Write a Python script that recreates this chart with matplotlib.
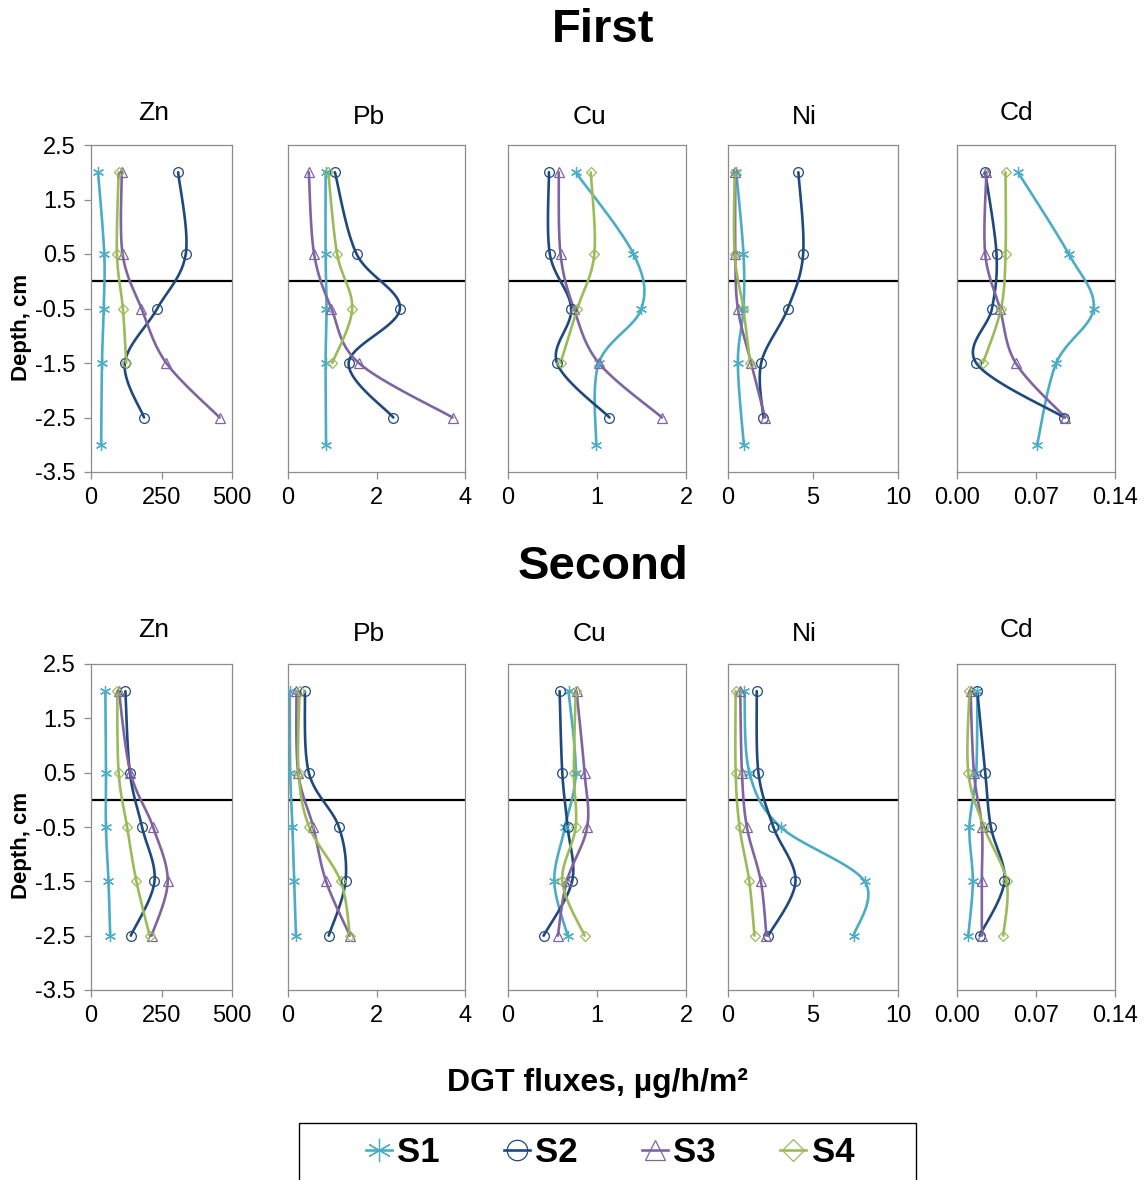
import matplotlib
matplotlib.use("Agg")
import matplotlib.pyplot as plt
from matplotlib.lines import Line2D
from matplotlib.patches import Rectangle
import numpy as np

plt.rcParams["font.family"] = ["Liberation Sans", "DejaVu Sans"]

# depths (cm) of the sampling points
DEPTH = [2, 0.5, -0.5, -1.5, -2.5]
DEPTH_S1_FIRST = [2, 0.5, -0.5, -1.5, -3]
DEPTH_S4_FIRST = [2, 0.5, -0.5, -1.5]

STATIONS = ["S1", "S2", "S3", "S4"]
METALS = ["Zn", "Pb", "Cu", "Ni", "Cd"]

# First campaign, DGT fluxes
FIRST_ZN = {"S1": [25, 47, 45, 39, 36], "S2": [309, 336, 235, 120, 188],
            "S3": [109, 112, 179, 267, 456], "S4": [98, 92, 113, 125]}
FIRST_PB = {"S1": [0.85, 0.85, 0.87, 0.85, 0.86], "S2": [1.06, 1.55, 2.53, 1.37, 2.38],
            "S3": [0.47, 0.59, 0.98, 1.60, 3.72], "S4": [0.91, 1.11, 1.45, 1.00]}
FIRST_CU = {"S1": [0.76, 1.41, 1.50, 1.02, 0.99], "S2": [0.46, 0.47, 0.71, 0.55, 1.14],
            "S3": [0.57, 0.59, 0.74, 1.02, 1.73], "S4": [0.93, 0.97, 0.78, 0.59]}
FIRST_NI = {"S1": [0.49, 0.91, 0.91, 0.58, 0.93], "S2": [4.14, 4.42, 3.52, 1.95, 2.08],
            "S3": [0.43, 0.43, 0.58, 1.36, 2.18], "S4": [0.39, 0.39, 0.90, 1.30]}
FIRST_CD = {"S1": [0.054, 0.099, 0.121, 0.088, 0.071], "S2": [0.025, 0.035, 0.031, 0.017, 0.095],
            "S3": [0.026, 0.025, 0.038, 0.052, 0.096], "S4": [0.043, 0.043, 0.039, 0.023]}

# Second campaign, DGT fluxes
SECOND_ZN = {"S1": [51, 53, 53, 62, 68], "S2": [122, 138, 181, 225, 141],
             "S3": [99, 140, 220, 272, 215], "S4": [93, 98, 128, 161, 208]}
SECOND_PB = {"S1": [0.04, 0.05, 0.10, 0.14, 0.18], "S2": [0.38, 0.47, 1.15, 1.30, 0.92],
             "S3": [0.19, 0.23, 0.57, 0.86, 1.40], "S4": [0.26, 0.24, 0.48, 1.19, 1.40]}
SECOND_CU = {"S1": [0.68, 0.76, 0.64, 0.52, 0.67], "S2": [0.58, 0.61, 0.67, 0.72, 0.40],
             "S3": [0.77, 0.86, 0.89, 0.66, 0.56], "S4": [0.76, 0.74, 0.76, 0.61, 0.86]}
SECOND_NI = {"S1": [0.97, 1.26, 3.09, 8.04, 7.39], "S2": [1.69, 1.79, 2.67, 3.97, 2.37],
             "S3": [0.72, 0.82, 1.11, 1.93, 2.26], "S4": [0.45, 0.45, 0.68, 1.25, 1.56]}
SECOND_CD = {"S1": [0.018, 0.017, 0.011, 0.014, 0.010], "S2": [0.018, 0.025, 0.030, 0.042, 0.020],
             "S3": [0.012, 0.015, 0.022, 0.022, 0.022], "S4": [0.011, 0.010, 0.024, 0.044, 0.041]}

X_LIMITS = {"Zn": (0, 500), "Pb": (0, 4), "Cu": (0, 2), "Ni": (0, 10), "Cd": (0, 0.14)}
X_TICKS = {"Zn": [0, 250, 500], "Pb": [0, 2, 4], "Cu": [0, 1, 2], "Ni": [0, 5, 10],
           "Cd": [0, 0.07, 0.14]}
X_TICKLABELS = {"Zn": ["0", "250", "500"], "Pb": ["0", "2", "4"], "Cu": ["0", "1", "2"],
                "Ni": ["0", "5", "10"], "Cd": ["0.00", "0.07", "0.14"]}
Y_TICKS = [2.5, 1.5, 0.5, -0.5, -1.5, -2.5, -3.5]

COLORS = {"S1": "#4BACC6", "S2": "#1F497D", "S3": "#8064A2", "S4": "#9BBB59"}
MARKERS = {"S1": (6, 2, 0), "S2": "o", "S3": "^", "S4": "D"}
MSIZE = {"S1": 8, "S2": 7, "S3": 7, "S4": 5.5}

W, H = 1146, 1180
# panel boxes in pixels: left, right
PANEL_X = {"Zn": (91, 232), "Pb": (288, 465), "Cu": (508, 686), "Ni": (728, 898), "Cd": (957, 1115)}
TITLE_X = {"Zn": 154, "Pb": 369, "Cu": 589, "Ni": 804, "Cd": 1016}
TITLE_DY = {"Zn": 0, "Pb": 4, "Cu": 4, "Ni": 4, "Cd": 0}


def smooth(xs, ys, n=24):
    # Excel-style smoothed line (cubic Bezier, Catmull-Rom control points)
    p = np.column_stack([xs, ys]).astype(float)
    out = [p[0]]
    t = np.linspace(0, 1, n)[1:, None]
    for i in range(len(p) - 1):
        p0 = p[i - 1] if i > 0 else p[i]
        p1, p2 = p[i], p[i + 1]
        p3 = p[i + 2] if i + 2 < len(p) else p[i + 1]
        c1 = p1 + (p2 - p0) / 6
        c2 = p2 - (p3 - p1) / 6
        seg = ((1 - t) ** 3) * p1 + 3 * ((1 - t) ** 2) * t * c1 + 3 * (1 - t) * t ** 2 * c2 + t ** 3 * p2
        out.extend(seg)
    out = np.array(out)
    return out[:, 0], out[:, 1]


def draw_panel(ax, metal, data, depths, show_y):
    ax.axhline(0, color="black", linewidth=1.6, zorder=1)
    for s in STATIONS:
        xs = data[s]
        ys = depths[s]
        sx, sy = smooth(xs, ys)
        ax.plot(sx, sy, color=COLORS[s], linewidth=1.9, zorder=2, solid_capstyle="round")
        ax.plot(xs, ys, linestyle="none", marker=MARKERS[s], markersize=MSIZE[s],
                markerfacecolor="none", markeredgecolor=COLORS[s], markeredgewidth=0.9, zorder=3)
    ax.set_xlim(*X_LIMITS[metal])
    ax.set_ylim(-3.5, 2.5)
    ax.set_xticks(X_TICKS[metal])
    ax.set_xticklabels(X_TICKLABELS[metal])
    for spine in ax.spines.values():
        spine.set_color("#8C8C8C")
        spine.set_linewidth(0.9)
    ax.tick_params(axis="x", direction="out", length=5, width=0.9, color="#8C8C8C",
                   labelsize=17, pad=6)
    if show_y:
        ax.set_yticks(Y_TICKS)
        ax.set_yticklabels([f"{v:.1f}" for v in Y_TICKS])
        ax.tick_params(axis="y", direction="out", length=5, width=0.9, color="#8C8C8C",
                       labelsize=17, pad=6)
    else:
        ax.set_yticks([])


fig = plt.figure(figsize=(W / 100, H / 100), dpi=100, facecolor="white")

rows = [
    ("First", 30, 145, 472, 113, 327,
     {"Zn": FIRST_ZN, "Pb": FIRST_PB, "Cu": FIRST_CU, "Ni": FIRST_NI, "Cd": FIRST_CD},
     {"S1": DEPTH_S1_FIRST, "S2": DEPTH, "S3": DEPTH, "S4": DEPTH_S4_FIRST}),
    ("Second", 567, 664, 990, 630, 845,
     {"Zn": SECOND_ZN, "Pb": SECOND_PB, "Cu": SECOND_CU, "Ni": SECOND_NI, "Cd": SECOND_CD},
     {"S1": DEPTH, "S2": DEPTH, "S3": DEPTH, "S4": DEPTH}),
]

for title, ty, top, bottom, panel_ty, label_y, data, depths in rows:
    fig.text(0.5 + 30 / W, 1 - ty / H, title, ha="center", va="center",
             fontsize=34, fontweight="bold")
    for metal in METALS:
        x0, x1 = PANEL_X[metal]
        ax = fig.add_axes([x0 / W, 1 - bottom / H, (x1 - x0) / W, (bottom - top) / H])
        draw_panel(ax, metal, data[metal], depths, metal == "Zn")
        fig.text(TITLE_X[metal] / W, 1 - (panel_ty + TITLE_DY[metal]) / H, metal,
                 ha="center", va="center", fontsize=19)
    fig.text(22 / W, 1 - label_y / H, "Depth, cm", rotation=90, ha="center", va="center",
             fontsize=16, fontweight="bold")

fig.text(597 / W, 1 - 1083 / H, "DGT fluxes, µg/h/m²", ha="center", va="center",
         fontsize=23, fontweight="bold")

fig.patches.append(Rectangle((299 / W, 1 - 1200 / H), (916 - 299) / W, (1200 - 1123) / H,
                             transform=fig.transFigure, facecolor="white", edgecolor="black",
                             linewidth=1.0, figure=fig))

handles = [Line2D([], [], color=COLORS[s], linewidth=1.9, marker=MARKERS[s],
                  markersize=MSIZE[s] * 2.1, markerfacecolor="none",
                  markeredgecolor=COLORS[s], markeredgewidth=0.9) for s in STATIONS]
leg = fig.legend(handles, STATIONS, loc="center", bbox_to_anchor=(610 / W, 1 - 1153 / H),
                 ncol=4, frameon=False, handlelength=0.75, handletextpad=0.15,
                 columnspacing=1.85, prop={"size": 25, "weight": "bold"})

fig.savefig("out.png", dpi=100, facecolor="white")
